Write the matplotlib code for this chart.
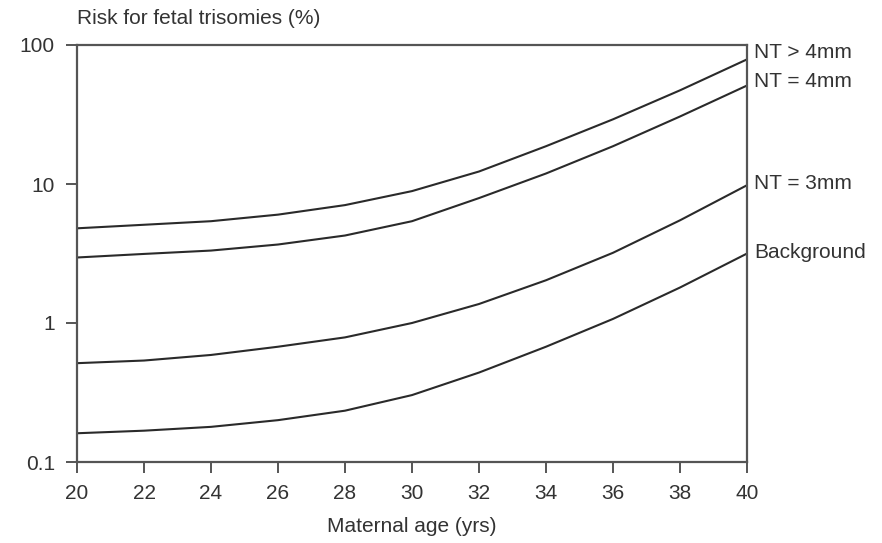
import matplotlib
matplotlib.use("Agg")
import matplotlib.pyplot as plt
from matplotlib.ticker import FixedLocator, FixedFormatter, NullLocator

# maternal age (yrs)
age = [20, 22, 24, 26, 28, 30, 32, 34, 36, 38, 40]

# risk for fetal trisomies (%)
risk_nt_gt4 = [4.80, 5.09, 5.40, 6.02, 7.05, 8.89, 12.3, 18.7, 29.2, 47.2, 78.8]
risk_nt_4 = [2.96, 3.14, 3.32, 3.67, 4.26, 5.40, 7.92, 11.9, 18.7, 30.6, 51.1]
risk_nt_3 = [0.514, 0.537, 0.589, 0.675, 0.788, 1.00, 1.37, 2.03, 3.2, 5.48, 9.8]
risk_background = [0.161, 0.168, 0.179, 0.200, 0.234, 0.303, 0.44, 0.675, 1.07, 1.80, 3.16]

series = [
    ("NT > 4mm", risk_nt_gt4, 5),
    ("NT = 4mm", risk_nt_4, 3),
    ("NT = 3mm", risk_nt_3, 1),
    ("Background", risk_background, 1),
]

yticks = [0.1, 1, 10, 100]
ytick_labels = ["0.1", "1", "10", "100"]
xticks = list(range(20, 41, 2))

plt.rcParams['font.family'] = ['Liberation Sans', 'DejaVu Sans']
text_color = '#333333'
line_color = '#2a2a2a'
spine_color = '#555555'

fig = plt.figure(figsize=(8.82, 5.43), dpi=100)
ax = fig.add_axes([77 / 882, 1 - 462 / 543, 670 / 882, 417 / 543])

for name, vals, dy in series:
    ax.plot(age, vals, color=line_color, linewidth=1.5, solid_capstyle='butt',
            solid_joinstyle='round')
    ax.annotate(name, xy=(age[-1], vals[-1]), xytext=(5, dy), textcoords='offset points',
                ha='left', va='center', fontsize=15, color=text_color,
                annotation_clip=False)

ax.set_yscale('log')
ax.set_ylim(0.1, 100)
ax.set_xlim(20, 40)
ax.yaxis.set_major_locator(FixedLocator(yticks))
ax.yaxis.set_major_formatter(FixedFormatter(ytick_labels))
ax.yaxis.set_minor_locator(NullLocator())
ax.set_xticks(xticks)

for s in ax.spines.values():
    s.set_color(spine_color)
    s.set_linewidth(1.6)

ax.tick_params(axis='both', direction='out', length=8, width=1.4, color=spine_color,
               labelsize=15, labelcolor=text_color, pad=8)

ax.set_xlabel("Maternal age (yrs)", fontsize=15, color=text_color, labelpad=10)
fig.text(77 / 882, 1 - 18 / 543, "Risk for fetal trisomies (%)", ha='left', va='center',
         fontsize=15, color=text_color)

fig.savefig("out.png", dpi=100, facecolor='white')
